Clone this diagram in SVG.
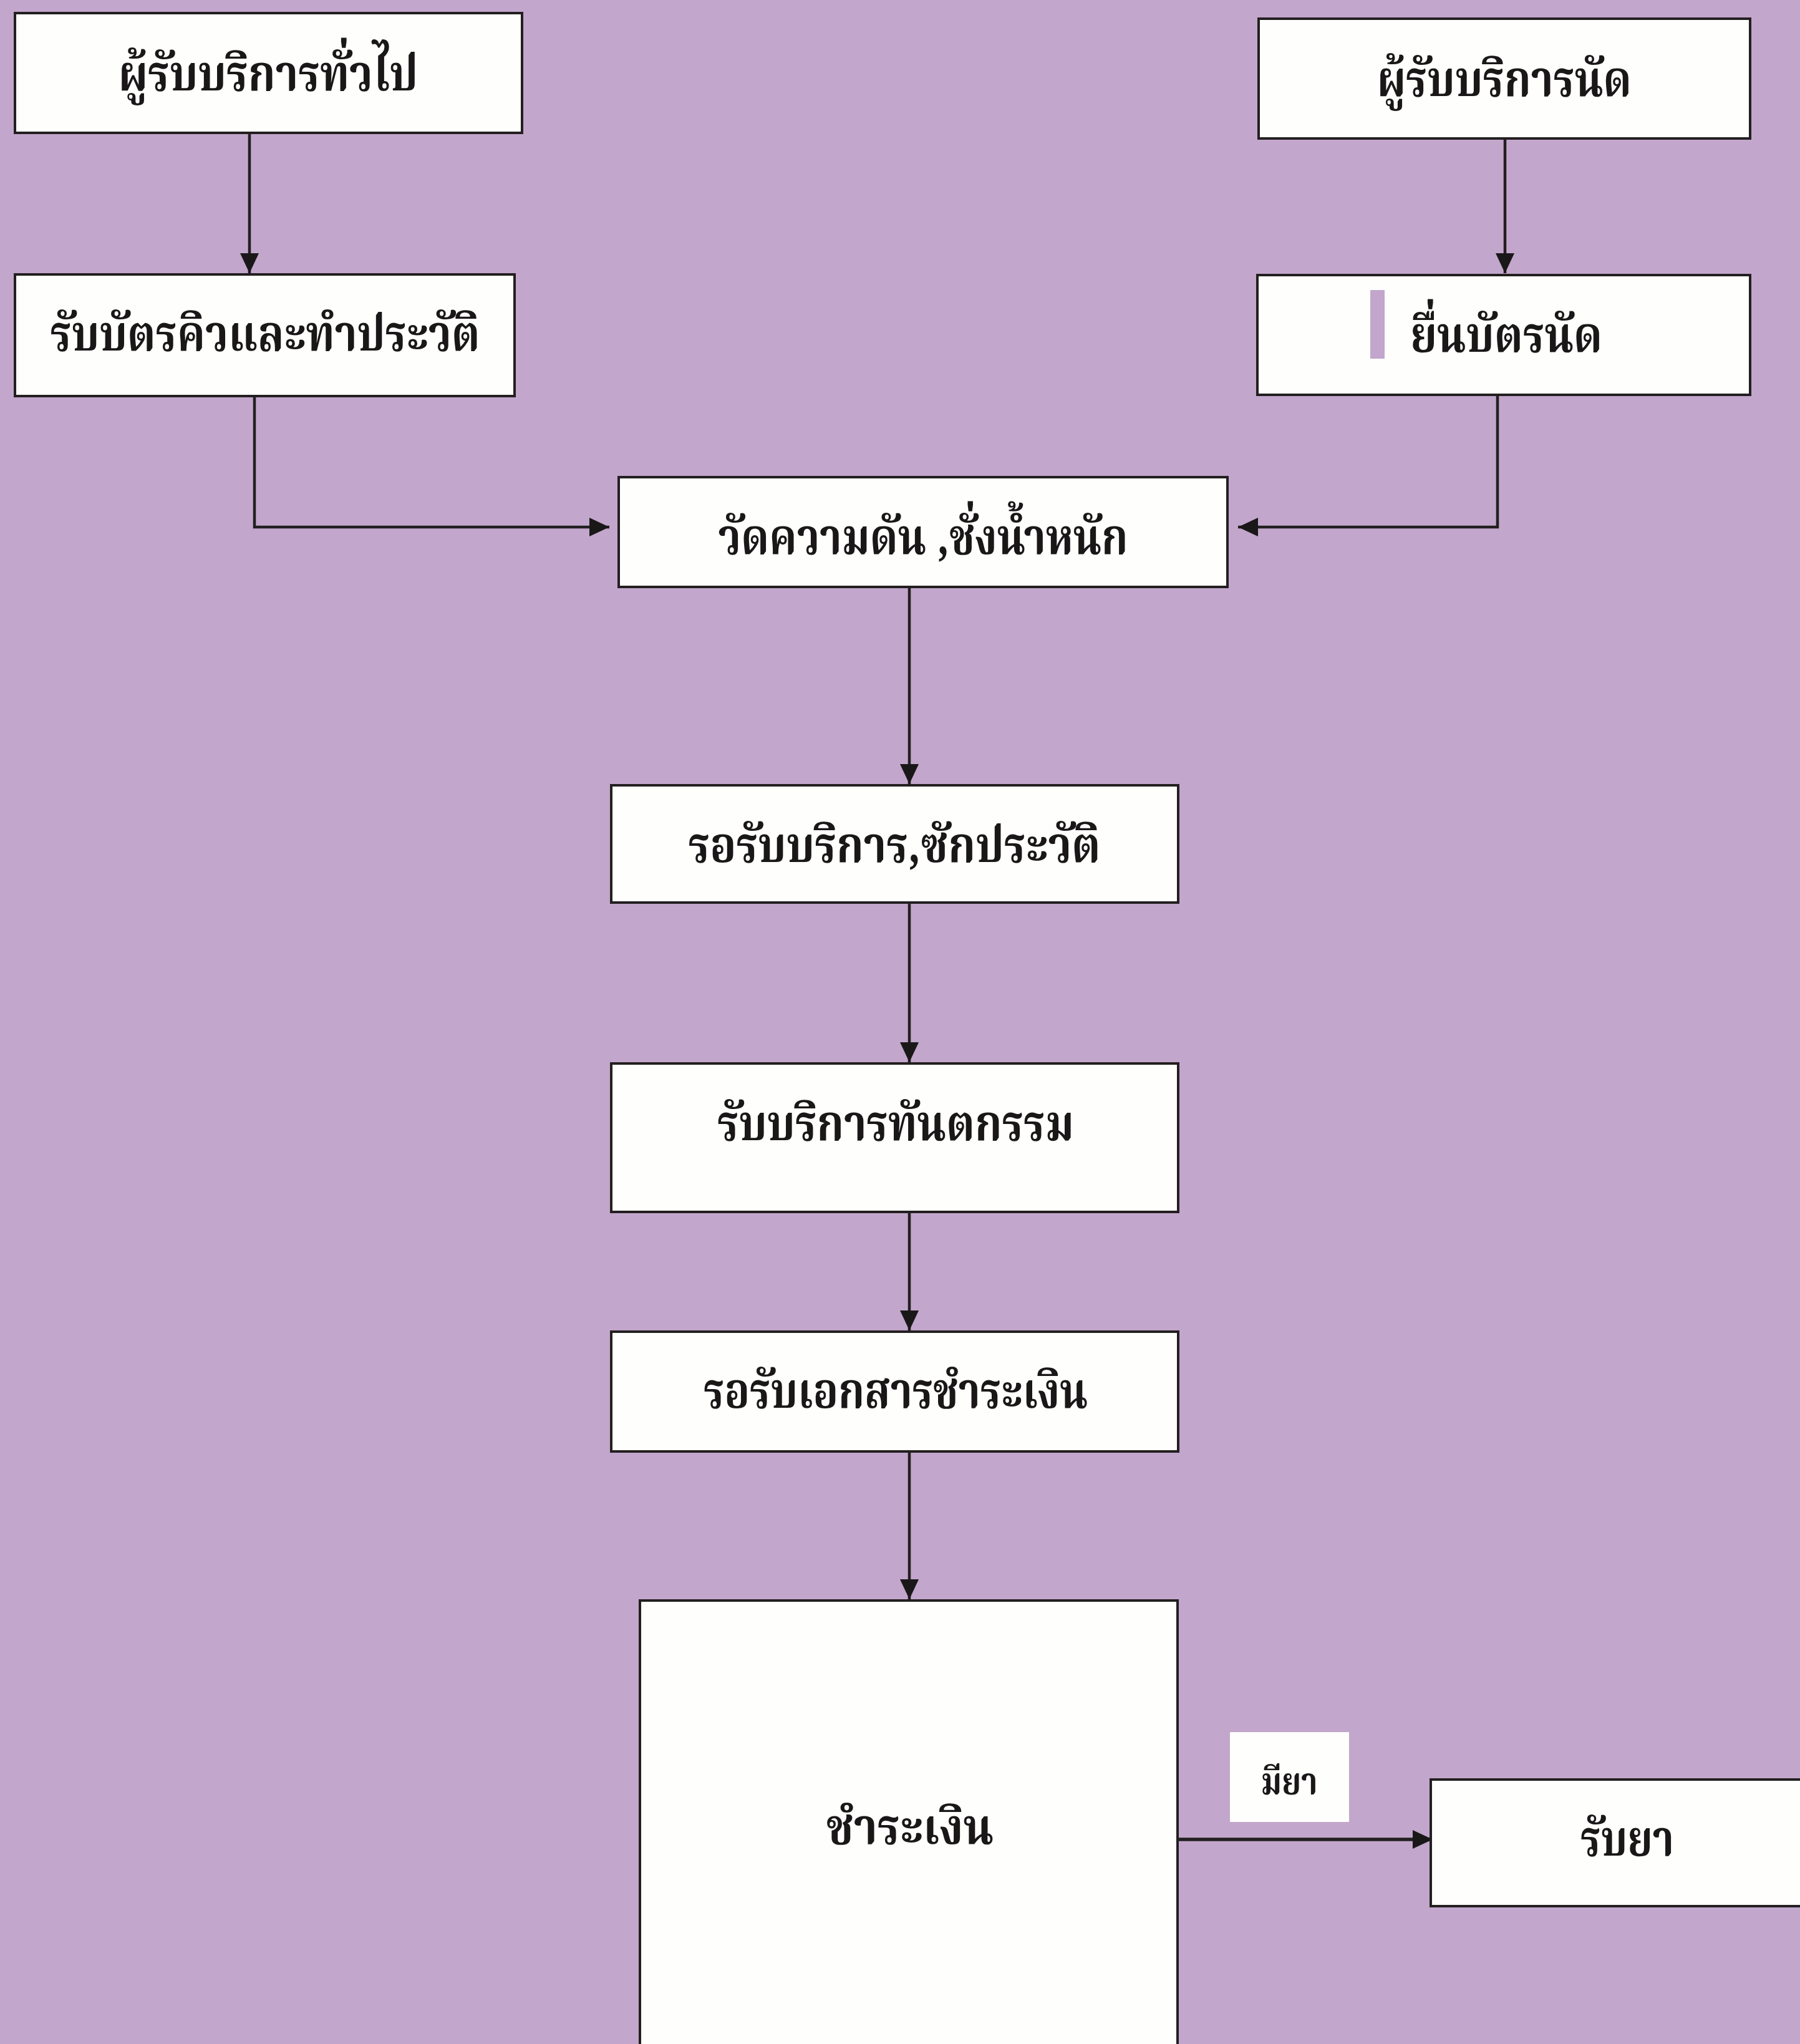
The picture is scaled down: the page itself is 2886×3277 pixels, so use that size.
<svg xmlns="http://www.w3.org/2000/svg" width="2886" height="3277" viewBox="0 0 2886 3277">
<style>
.box{fill:#fefefc;stroke:#231f20;stroke-width:4}
.t{font-family:"Noto Serif Thai","Noto Sans Thai","Loma","Garuda","Tlwg Typo","DejaVu Sans",sans-serif;font-size:80px;font-weight:bold;fill:#1a1718;text-anchor:middle}
.c{fill:none;stroke:#231f20;stroke-width:4.5}
</style>
<defs>
<marker id="ah" viewBox="0 0 32 32" refX="32" refY="16" markerWidth="32" markerHeight="32" markerUnits="userSpaceOnUse" orient="auto">
<path d="M0,1 L32,16 L0,31 z" fill="#1a1718"/>
</marker>
</defs>
<rect x="0" y="0" width="2886" height="3277" fill="#c2a6cb"/>
<g id="connectors">
<path class="c" d="M400,213 V438" marker-end="url(#ah)"/>
<path class="c" d="M2413,222 V438" marker-end="url(#ah)"/>
<path class="c" d="M408,635 V845 H977" marker-end="url(#ah)"/>
<path class="c" d="M2401,633 V845 H1985" marker-end="url(#ah)"/>
<path class="c" d="M1458,941 V1257" marker-end="url(#ah)"/>
<path class="c" d="M1458,1447 V1703" marker-end="url(#ah)"/>
<path class="c" d="M1458,1943 V2133" marker-end="url(#ah)"/>
<path class="c" d="M1458,2327 V2564" marker-end="url(#ah)"/>
<path class="c" style="stroke-width:5.5" d="M1888,2949 H2297" marker-end="url(#ah)"/>
</g>
<g id="n1"><rect class="box" x="24" y="21" width="813" height="192"/><text class="t" x="430" y="145" textLength="480" lengthAdjust="spacingAndGlyphs">ผู้รับบริการทั่วไป</text></g>
<g id="n2"><rect class="box" x="24" y="440" width="801" height="195"/><text class="t" x="425" y="562" textLength="689" lengthAdjust="spacingAndGlyphs">รับบัตรคิวและทำประวัติ</text></g>
<g id="n3"><rect class="box" x="2018" y="30" width="788" height="192"/><text class="t" x="2412" y="154" textLength="408" lengthAdjust="spacingAndGlyphs">ผู้รับบริการนัด</text></g>
<g id="n4"><rect class="box" x="2016" y="441" width="790" height="192"/><rect x="2197" y="465" width="23" height="110" fill="#c2a6cb"/><text class="t" x="2415" y="564" textLength="308" lengthAdjust="spacingAndGlyphs">ยื่นบัตรนัด</text></g>
<g id="n5"><rect class="box" x="992" y="765" width="976" height="176"/><text class="t" x="1480" y="888" textLength="657" lengthAdjust="spacingAndGlyphs">วัดความดัน ,ชั่งน้ำหนัก</text></g>
<g id="n6"><rect class="box" x="980" y="1259" width="909" height="188"/><text class="t" x="1434" y="1382" textLength="661" lengthAdjust="spacingAndGlyphs">รอรับบริการ,ซักประวัติ</text></g>
<g id="n7"><rect class="box" x="980" y="1705" width="909" height="238"/><text class="t" x="1436" y="1828" textLength="572" lengthAdjust="spacingAndGlyphs">รับบริการทันตกรรม</text></g>
<g id="n8"><rect class="box" x="980" y="2135" width="909" height="192"/><text class="t" x="1436" y="2257" textLength="616" lengthAdjust="spacingAndGlyphs">รอรับเอกสารชำระเงิน</text></g>
<g id="n9"><rect class="box" x="1026" y="2566" width="862" height="760"/><text class="t" x="1459" y="2956" textLength="268" lengthAdjust="spacingAndGlyphs">ชำระเงิน</text></g>
<g id="lbl"><rect x="1972" y="2777" width="191" height="144" fill="#fefefc"/><text class="t" style="font-size:60px" x="2067" y="2877" textLength="91" lengthAdjust="spacingAndGlyphs">มียา</text></g>
<g id="n10"><rect class="box" x="2294" y="2853" width="640" height="203"/><text class="t" x="2609" y="2975" textLength="150" lengthAdjust="spacingAndGlyphs">รับยา</text></g>
</svg>
